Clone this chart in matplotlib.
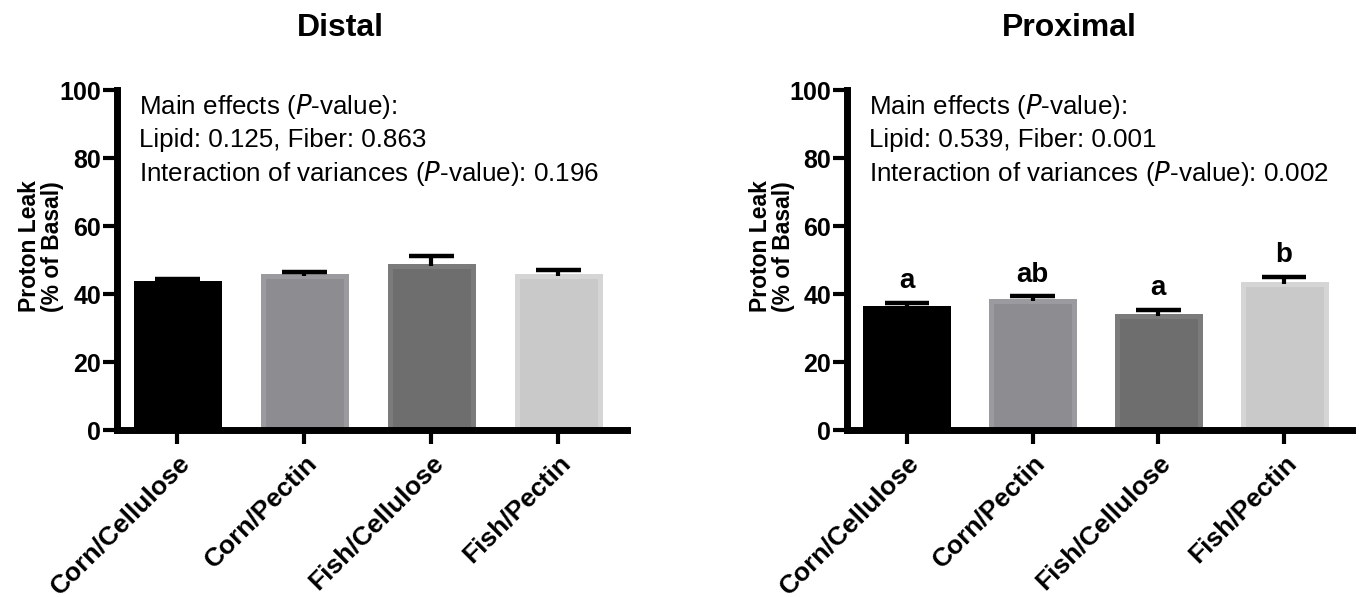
import matplotlib
matplotlib.use("Agg")
import matplotlib.pyplot as plt

plt.rcParams['font.family'] = ['Liberation Sans', 'DejaVu Sans']

groups = ["Corn/Cellulose", "Corn/Pectin", "Fish/Cellulose", "Fish/Pectin"]
bar_colors = ["#000000", "#8d8d91", "#6e6e6e", "#c9c9c9"]
edge_colors = ["#000000", "#9b9b9f", "#7b7b7b", "#d5d5d5"]

distal_mean = [43.2, 45.4, 48.3, 45.4]
distal_sem = [1.2, 1.2, 3.0, 1.7]
proximal_mean = [35.8, 38.0, 33.4, 42.9]
proximal_sem = [1.6, 1.4, 2.0, 2.1]
proximal_letters = ["a", "ab", "a", "b"]

distal_text = ["Main effects ($\\mathit{P}$-value):",
               "Lipid: 0.125, Fiber: 0.863",
               "Interaction of variances ($\\mathit{P}$-value): 0.196"]
proximal_text = ["Main effects ($\\mathit{P}$-value):",
                 "Lipid: 0.539, Fiber: 0.001",
                 "Interaction of variances ($\\mathit{P}$-value): 0.002"]

W, H = 1359, 597
fig = plt.figure(figsize=(W / 100, H / 100), dpi=100)

y0, y100 = 430, 90  # pixel rows of 0 and 100


def panel(x0, x1, title_x, title, means, sems, lines, letters=None):
    ax = fig.add_axes([x0 / W, 1 - y0 / H, (x1 - x0) / W, (y0 - y100) / H])
    xs = list(range(len(groups)))
    ax.bar(xs, means, width=0.66, color=bar_colors, edgecolor=edge_colors,
           linewidth=3.6, zorder=2)
    # upper-only error bars with caps
    tops = [m + s for m, s in zip(means, sems)]
    ax.vlines(xs, means, tops, color='black', linewidth=3, zorder=3)
    ax.hlines(tops, [x - 0.177 for x in xs], [x + 0.177 for x in xs],
              color='black', linewidth=3.2, zorder=3)
    if letters:
        for x, t, lab in zip(xs, tops, letters):
            ax.text(x, t + 2.5, lab, ha='center', va='bottom', fontsize=20,
                    fontweight='bold')
    ax.set_xlim(-0.48, 3.54)
    ax.set_ylim(0, 100)
    ax.set_yticks([0, 20, 40, 60, 80, 100])
    ax.set_xticks(xs)
    ax.set_xticklabels(groups, rotation=45, ha='right', rotation_mode='anchor',
                       fontsize=19, fontweight='bold')
    for lab in ax.get_yticklabels():
        lab.set_fontweight('bold')
        lab.set_fontsize(18)
    ax.tick_params(axis='both', width=3, length=10, direction='out')
    ax.tick_params(axis='y', pad=1)
    ax.tick_params(axis='x', pad=5)
    for sp in ['top', 'right']:
        ax.spines[sp].set_visible(False)
    for sp in ['left', 'bottom']:
        ax.spines[sp].set_linewidth(5)
    ax.set_ylabel("Proton Leak\n(% of Basal)", fontsize=16.5, fontweight='bold',
                  linespacing=1.0)
    ax.yaxis.set_label_coords(-0.102, 0.54)
    fig.text(title_x / W, 1 - 28 / H, title, fontsize=23, fontweight='bold',
             ha='center', va='center')
    for i, line in enumerate(lines):
        ax.text(0.045, 0.929 - i * 0.098, line, transform=ax.transAxes,
                fontsize=18.7, va='baseline', ha='left')
    return ax


panel(116.5, 627, 340, "Distal", distal_mean, distal_sem, distal_text)
panel(846.5, 1352, 1069, "Proximal", proximal_mean, proximal_sem, proximal_text,
      proximal_letters)

fig.savefig("out.png", dpi=100)
